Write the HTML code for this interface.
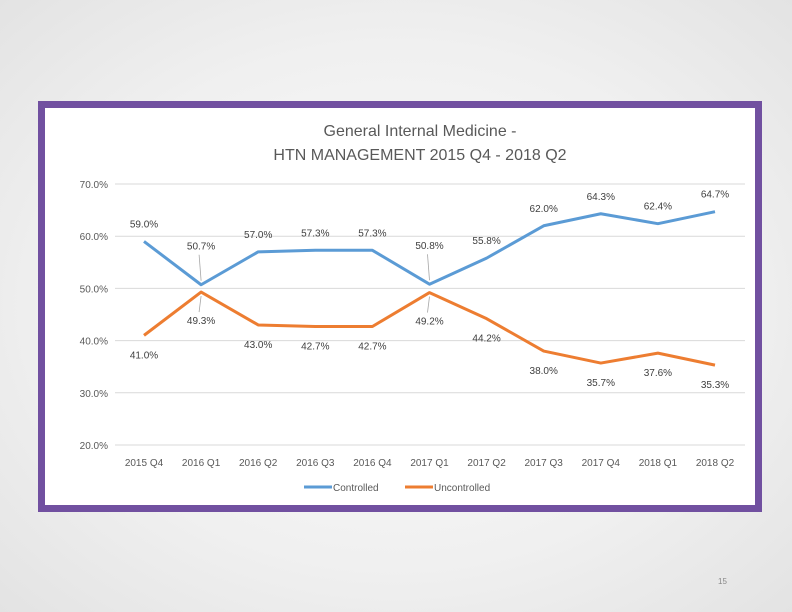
<!DOCTYPE html>
<html><head><meta charset="utf-8"><style>
html,body{margin:0;padding:0}
body{width:792px;height:612px;overflow:hidden;background:radial-gradient(ellipse at 50% 50%,#fbfbfb 0%,#f0f0f0 60%,#e3e3e3 100%);font-family:"Liberation Sans",sans-serif;position:relative}
#frame{position:absolute;left:38px;top:101px;width:710px;height:397px;border:7px solid #7150a0;background:#fff}
#pg{position:absolute;left:718px;top:577px;font-size:8px;color:#888}
</style></head><body>
<div id="frame"></div>
<svg id="chart" width="792" height="612" style="position:absolute;left:0;top:0" font-family="Liberation Sans, sans-serif"></svg>
<div id="pg">15</div>
<script>
const categories=["2015 Q4","2016 Q1","2016 Q2","2016 Q3","2016 Q4","2017 Q1","2017 Q2","2017 Q3","2017 Q4","2018 Q1","2018 Q2"];
const controlled=[59.0,50.7,57.0,57.3,57.3,50.8,55.8,62.0,64.3,62.4,64.7];
const uncontrolled=[41.0,49.3,43.0,42.7,42.7,49.2,44.2,38.0,35.7,37.6,35.3];
const yTicks=[20,30,40,50,60,70];
const svg=document.getElementById('chart');
const NS='http://www.w3.org/2000/svg';
const x=i=>144+i*57.1;
const y=v=>445-(v-20)*5.22;
function el(t,a,txt){const e=document.createElementNS(NS,t);for(const k in a)e.setAttribute(k,a[k]);if(txt!==undefined)e.textContent=txt;svg.appendChild(e);return e;}
let t=el('text',{x:420,y:136,'text-anchor':'middle','font-size':16,fill:'#595959'},'General Internal Medicine -');


t=el('text',{x:420,y:160,'text-anchor':'middle','font-size':16,fill:'#595959'},'HTN MANAGEMENT 2015 Q4 - 2018 Q2');


yTicks.forEach(v=>{
 const g=el('line',{x1:115,x2:745,y1:y(v),y2:y(v),stroke:'#d9d9d9','stroke-width':1});
 
 
 const l=el('text',{x:108,y:y(v)+4,'text-anchor':'end','font-size':10,fill:'#595959'},v.toFixed(1)+'%');
 
 
});
categories.forEach((c,i)=>{
 const l=el('text',{x:x(i),y:466,'text-anchor':'middle','font-size':10,fill:'#595959'},c);
 
 
});
function series(data,color,name,above){
 const p=el('polyline',{points:data.map((v,i)=>x(i)+','+y(v)).join(' '),fill:'none',stroke:color,'stroke-width':3,'stroke-linejoin':'round'});
 
 
 data.forEach((v,i)=>{
  const other=above?uncontrolled[i]:controlled[i];
  const close=Math.abs(v-other)<5;
  let ly=above?y(v)-(close?35:14):y(v)+(close?32:23);
  let lx=x(i);
  if(close){const q=el('line',{x1:x(i),y1:above?y(v)-4:y(v)+4,x2:x(i)-2,y2:above?ly+5:ly-12,stroke:'#a6a6a6','stroke-width':0.8});}
  const l=el('text',{x:lx,y:ly,'text-anchor':'middle','font-size':10,fill:'#404040'},v.toFixed(1)+'%');
  
  
 });
}
series(controlled,'#5b9bd5','controlled',true);
series(uncontrolled,'#ed7d31','uncontrolled',false);
[['Controlled','#5b9bd5',304],['Uncontrolled','#ed7d31',405]].forEach(([n,c,lx])=>{
 const ln=el('line',{x1:lx,x2:lx+28,y1:487,y2:487,stroke:c,'stroke-width':3});
 
 
 const tx=el('text',{x:lx+29,y:491,'font-size':10,fill:'#595959'},n);
 
 
});
</script>
</body></html>
